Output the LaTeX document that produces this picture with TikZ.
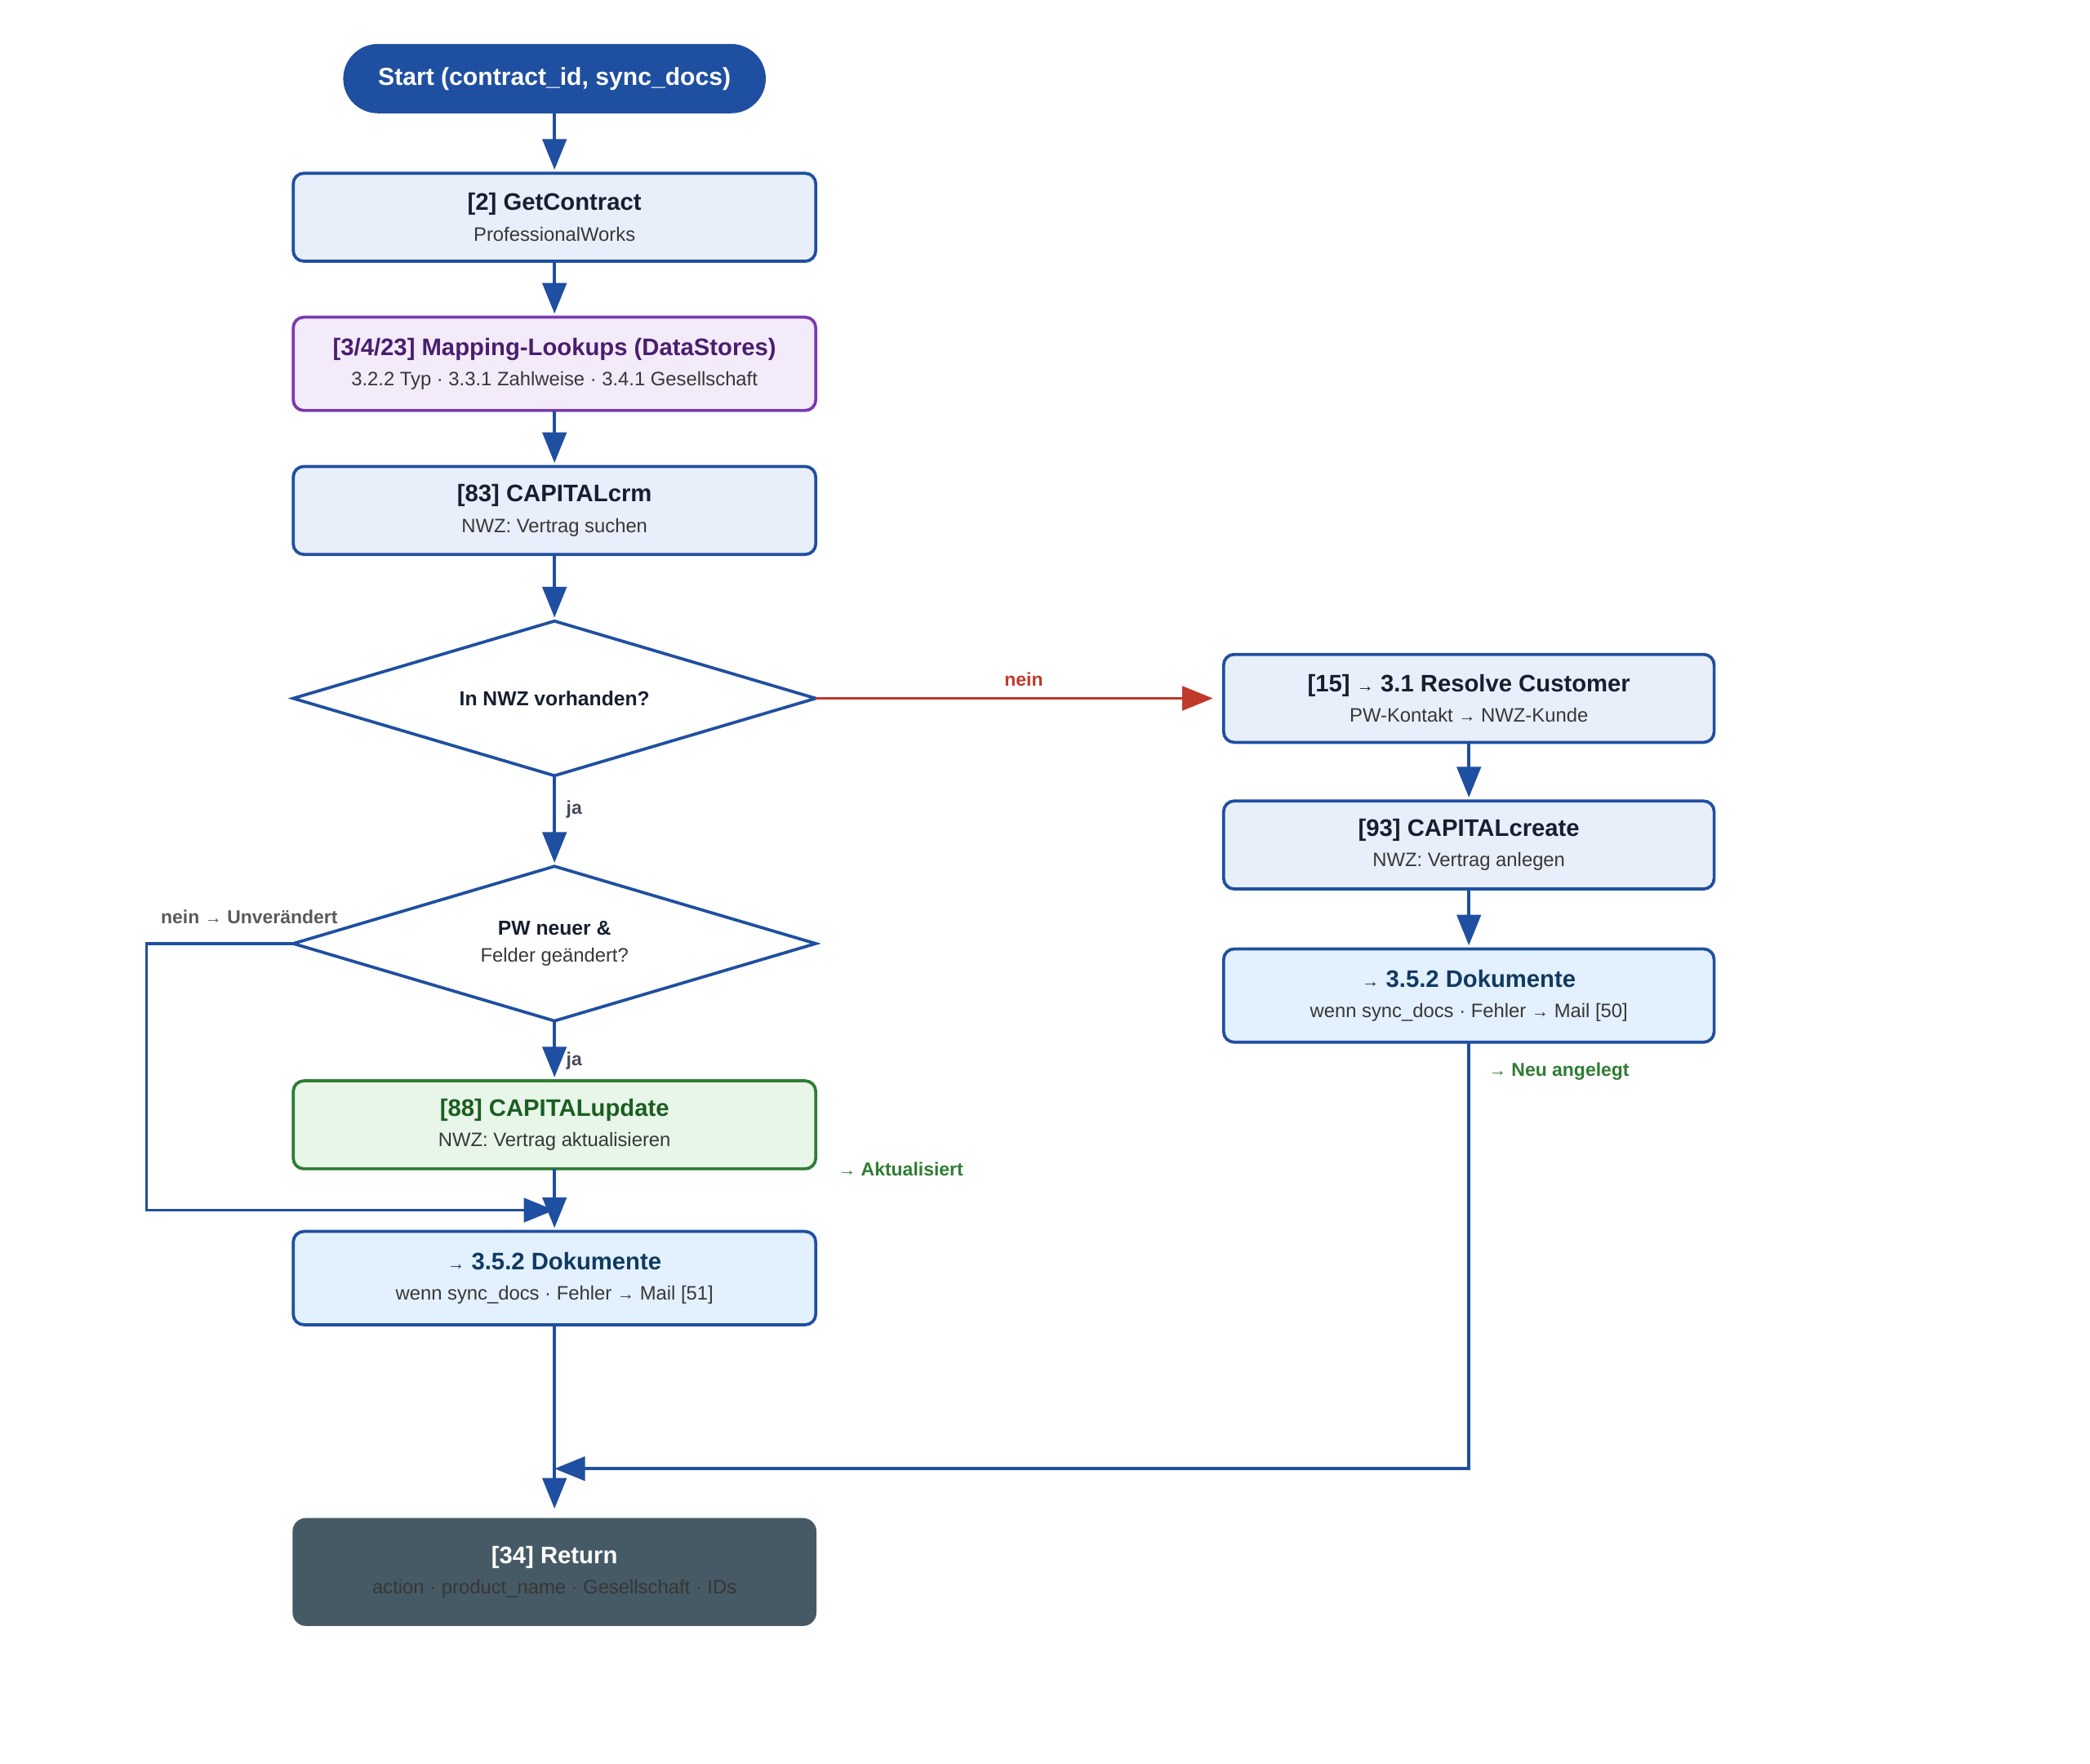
\documentclass[tikz,border=0pt]{standalone}
\usepackage{fontspec}
\setmainfont{Liberation Sans}
\definecolor{flowblue}{RGB}{31, 79, 160}
\definecolor{boxbg}{RGB}{232, 239, 250}
\definecolor{docbg}{RGB}{227, 240, 253}
\definecolor{docink}{RGB}{16, 58, 98}
\definecolor{mapviolet}{RGB}{123, 58, 176}
\definecolor{mapbg}{RGB}{243, 235, 250}
\definecolor{mapink}{RGB}{74, 30, 110}
\definecolor{updgreen}{RGB}{46, 125, 50}
\definecolor{updbg}{RGB}{232, 245, 233}
\definecolor{updink}{RGB}{27, 94, 32}
\definecolor{retslate}{RGB}{69, 90, 100}
\definecolor{neinred}{RGB}{192, 57, 43}
\definecolor{titleink}{RGB}{22, 30, 48}
\definecolor{subink}{RGB}{55, 55, 55}
\definecolor{labelgray}{RGB}{90, 90, 90}
\usepackage{tikz}
\usetikzlibrary{shapes.geometric, arrows.meta, positioning}

\newcommand{\stitle}[1]{{\fontsize{10.2}{12}\selectfont\bfseries #1}}
\newcommand{\ssub}[1]{{\color{subink}#1}}
\newcommand{\sarr}{{\fontsize{7.4}{7.4}\selectfont →}}

\begin{document}
\begin{tikzpicture}[
    stepbox/.style={draw=flowblue, fill=boxbg, line width=1.3pt, rounded corners=4.5pt,
      minimum width=7.84cm, minimum height=1.32cm, inner sep=0pt, outer sep=0pt, align=center,
      text=titleink, font=\fontsize{8.3}{13}\selectfont},
    docbox/.style={stepbox, fill=docbg, text=docink, minimum height=1.4cm},
    decide/.style={diamond, aspect=3.4, draw=flowblue, fill=white, line width=1.3pt,
      minimum width=7.84cm, minimum height=2.32cm, inner sep=0pt, outer sep=0pt, align=center,
      text=titleink, font=\fontsize{8.3}{11.4}\selectfont},
    flow/.style={draw=flowblue, line width=1.3pt, -{Triangle[length=0.46cm, width=0.36cm]}, shorten >=1.5pt},
    edgetext/.style={font=\fontsize{8}{9.6}\selectfont\bfseries, inner sep=1pt}
  ]
  \useasboundingbox (0,0) rectangle (31.36,-26.46);

  % left column
  \node[fill=flowblue, rounded corners=0.52cm, minimum width=6.34cm, minimum height=1.04cm, outer sep=0pt,
        text=white, font=\fontsize{10.5}{12}\selectfont\bfseries] (start) at (8.32,-1.18)
        {Start (contract\_id, sync\_docs)};
  \node[stepbox, below=0.9cm of start] (getc) {\stitle{[2] GetContract}\\\ssub{ProfessionalWorks}};
  \node[stepbox, below=0.84cm of getc, draw=mapviolet, fill=mapbg, text=mapink, minimum height=1.4cm] (lookup)
        {\stitle{[3/4/23] Mapping-Lookups (DataStores)}\\\ssub{3.2.2 Typ · 3.3.1 Zahlweise · 3.4.1 Gesellschaft}};
  \node[stepbox, below=0.84cm of lookup] (crm) {\stitle{[83] CAPITALcrm}\\\ssub{NWZ: Vertrag suchen}};
  \node[decide, below=1.0cm of crm] (exists) {{\fontsize{8.6}{10}\selectfont\bfseries In NWZ vorhanden?}};
  \node[decide, below=1.36cm of exists] (newer) {{\fontsize{8.6}{10}\selectfont\bfseries PW neuer \&}\\\ssub{Felder geändert?}};
  \node[stepbox, below=0.9cm of newer, draw=updgreen, fill=updbg, text=updink] (update)
        {\stitle{[88] CAPITALupdate}\\\ssub{NWZ: Vertrag aktualisieren}};
  \node[docbox, below=0.94cm of update] (docsL) {\stitle{\sarr\ 3.5.2 Dokumente}\\\ssub{wenn sync\_docs · Fehler \sarr\ Mail [51]}};
  \node[stepbox, below=2.9cm of docsL, draw=none, fill=retslate, text=white, rounded corners=5.7pt,
        minimum width=7.86cm, minimum height=1.62cm] (ret)
        {\stitle{[34] Return}\\\ssub{action · product\_name · Gesellschaft · IDs}};

  % right column
  \node[stepbox, right=6.12cm of exists, minimum width=7.36cm] (resolve)
        {\stitle{[15] \sarr\ 3.1 Resolve Customer}\\\ssub{PW-Kontakt \sarr\ NWZ-Kunde}};
  \node[stepbox, below=0.88cm of resolve, minimum width=7.36cm] (create)
        {\stitle{[93] CAPITALcreate}\\\ssub{NWZ: Vertrag anlegen}};
  \node[docbox, below=0.9cm of create, minimum width=7.36cm] (docsR)
        {\stitle{\sarr\ 3.5.2 Dokumente}\\\ssub{wenn sync\_docs · Fehler \sarr\ Mail [50]}};

  \coordinate[above=0.32cm of docsL.north] (joinL);
  \coordinate[above=0.74cm of ret.north] (joinR);

  % connectors
  \draw[flow] (start) -- (getc);
  \draw[flow] (getc) -- (lookup);
  \draw[flow] (lookup) -- (crm);
  \draw[flow] (crm) -- (exists);
  \draw[flow, draw=neinred, shorten >=0.16cm] (exists.east) -- node[pos=0.51, above=0.12cm, edgetext, text=neinred] (lblnein) {nein} (resolve.west);
  \draw[flow] (exists.south) -- node[pos=0.37, right=0.12cm, edgetext, text=titleink!80] (lblja) {ja} (newer.north);
  \draw[flow] (newer.south) -- node[pos=0.67, right=0.12cm, edgetext, text=titleink!80] (lblja2) {ja} (update.north);
  \draw[flow] (update) -- (docsL);
  \draw[flow, shorten >=0pt] (newer.west) -- node[pos=0.3, above=0.24cm, edgetext, text=labelgray] (lblsame) {nein \sarr\ Unverändert}
        ++(-2.2,0) |- (joinL);
  \draw[flow] (resolve) -- (create);
  \draw[flow] (create) -- (docsR);
  \draw[flow, shorten >=0pt] (docsR.south) |- (joinR);
  \draw[flow, shorten >=0.14cm] (docsL) -- (ret);

  \node[edgetext, text=updgreen, right=0.3cm of update.south east] (lblupd) {\sarr\ Aktualisiert};
  \node[edgetext, text=updgreen, below right=0.26cm and 0.26cm of docsR.south] (lblnew) {\sarr\ Neu angelegt};
\end{tikzpicture}
\end{document}
